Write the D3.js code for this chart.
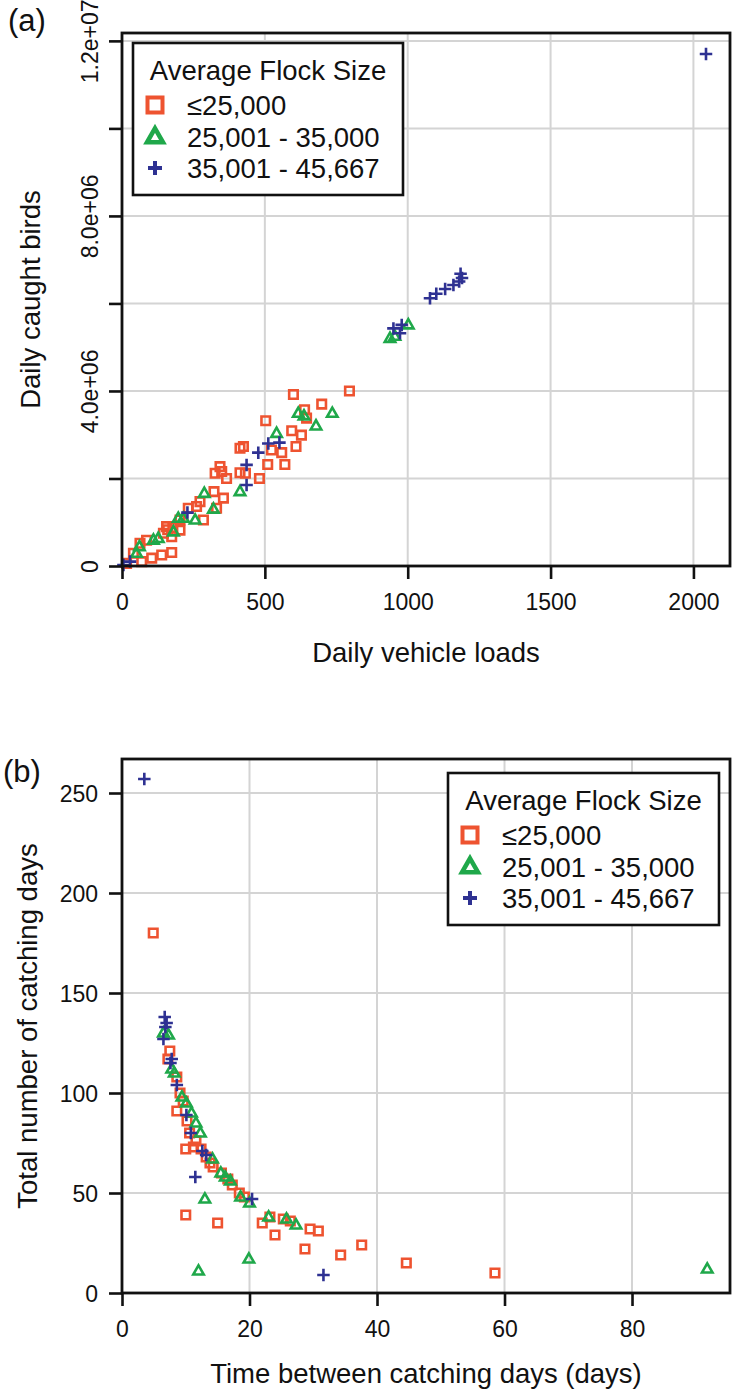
<!DOCTYPE html>
<html><head><meta charset="utf-8">
<script src="https://cdn.jsdelivr.net/npm/d3@7"></script>
<style>
body{margin:0;background:#fff}
svg{display:block}
text{font-family:"Liberation Sans",Arial,Helvetica,sans-serif;fill:#111}
</style>
</head><body>
<svg id="chart" width="732" height="1391"></svg>
<script>
// ---------- DATA ----------
const seriesNames = ["\u226425,000", "25,001 - 35,000", "35,001 - 45,667"];
const legendTitle = "Average Flock Size";

// Panel (a): [daily vehicle loads, daily caught birds]
const loadsBirdsSmall = [
  [600,3920000],[796,4000000],[699,3700000],[639,3570000],[646,3380000],[503,3320000],
  [594,3090000],[628,2990000],[609,2730000],[523,2650000],[559,2590000],[570,2320000],
  [510,2320000],[413,2690000],[425,2730000],[326,2120000],[343,2270000],[349,2160000],
  [366,2000000],[413,2130000],[432,2120000],[481,2000000],[322,1700000],[355,1550000],
  [273,1470000],[261,1360000],[232,1320000],[331,1320000],[285,1050000],[203,1050000],
  [156,900000],[145,750000],[203,820000],[174,670000],[63,520000],[86,590000],
  [174,310000],[139,250000],[104,180000],[69,100000],[16,60000],[40,290000],
  [160,830000],[178,880000]
];
const loadsBirdsMedium = [
  [617,3490000],[637,3430000],[736,3490000],[679,3200000],[541,3030000],[288,1660000],
  [413,1700000],[320,1300000],[197,1090000],[256,1050000],[215,1090000],[180,780000],
  [127,630000],[110,590000],[61,440000],[51,290000],[938,5200000],[955,5250000],[1002,5510000]
];
const loadsBirdsLarge = [
  [551,2820000],[512,2800000],[477,2590000],[436,2310000],[436,1850000],[229,1220000],
  [28,100000],[5,20000],[950,5430000],[979,5510000],[973,5320000],[1078,6120000],
  [1100,6220000],[1131,6330000],[1160,6420000],[1180,6500000],[1190,6580000],[1185,6680000],
  [2044,11700000]
];

// Panel (b): [time between catching days, total number of catching days]
const intervalDaysSmall = [
  [4.9,180],[7.5,121],[7.2,117],[8.6,108],[9.1,100],[8.6,91],[9.6,96],[10.2,86],[10.6,80],
  [10.0,72],[11.2,73],[11.6,76],[12.4,72],[13.2,68],[13.8,65],[14.3,63],[15.6,60],[16.6,57],
  [17.3,54],[18.4,50],[19.2,48],[10.0,39],[15.0,35],[22.0,35],[23.2,38],[24.0,29],[25.3,37],
  [26.4,36],[28.7,22],[29.5,32],[30.8,31],[34.3,19],[37.6,24],[44.6,15],[58.5,10]
];
const intervalDaysMedium = [
  [6.5,130],[7.3,129],[7.8,112],[8.2,110],[9.4,98],[10.1,95],[10.9,90],[11.6,85],[12.3,80],
  [13.0,47],[14.2,67],[15.5,60],[16.2,58],[17.0,56],[18.6,48],[20.0,45],[23.0,38],[25.8,37],
  [27.3,34],[12.0,11],[19.9,17],[91.8,12]
];
const intervalDaysLarge = [
  [3.5,257],[6.7,138],[7.0,135],[6.8,133],[6.5,127],[7.8,117],[7.6,115],[8.6,104],[10.1,89],
  [10.8,80],[11.5,58],[12.6,71],[13.2,69],[20.4,47],[31.6,9]
];

// Tick values / labels
const aXTicks = [0, 500, 1000, 1500, 2000];
const aYTicks = [0, 2e6, 4e6, 6e6, 8e6, 1e7, 1.2e7];
const aYLabels = {0: "0", 4000000: "4.0e+06", 8000000: "8.0e+06", 12000000: "1.2e+07"};
const bXTicks = [0, 20, 40, 60, 80];
const bYTicks = [0, 50, 100, 150, 200, 250];

// ---------- STYLE ----------
const colors = ["#EE5330", "#1FA84A", "#2E3192"];
const kinds = ["square", "triangle", "plus"];
const svg = d3.select("#chart");

function symbolPath(kind, w) {
  const s = w / 2;
  if (kind === "square") return `M${-s},${-s}H${s}V${s}H${-s}Z`;
  if (kind === "triangle") {
    const h = w * 0.88;
    return `M0,${-h * 0.62}L${s},${h * 0.38}L${-s},${h * 0.38}Z`;
  }
  return `M${-s},0H${s}M0,${-s}V${s}`;
}
const markSize = {square: 8.5, triangle: 10.5, plus: 12.5};
const legendSize = {square: 15, triangle: 16, plus: 14};

function drawPanel(cfg) {
  const g = svg.append("g");
  const x = d3.scaleLinear().domain(cfg.xDomain).range([cfg.left, cfg.right]);
  const y = d3.scaleLinear().domain(cfg.yDomain).range([cfg.bottom, cfg.top]);

  // grid
  const grid = g.append("g").attr("stroke", "#d4d4d4").attr("stroke-width", 2);
  grid.selectAll("line.v").data(cfg.xTicks).join("line")
    .attr("x1", d => x(d)).attr("x2", d => x(d)).attr("y1", cfg.top).attr("y2", cfg.bottom);
  grid.selectAll("line.h").data(cfg.yTicks).join("line")
    .attr("y1", d => y(d)).attr("y2", d => y(d)).attr("x1", cfg.left).attr("x2", cfg.right);

  // points
  cfg.series.forEach((data, i) => {
    g.append("g").selectAll("path").data(data).join("path")
      .attr("transform", d => `translate(${x(d[0])},${y(d[1])})`)
      .attr("d", symbolPath(kinds[i], markSize[kinds[i]]))
      .attr("fill", "none").attr("stroke", colors[i]).attr("stroke-width", 2.6)
      .attr("stroke-linejoin", "miter");
  });

  // legend
  const L = cfg.legend;
  const lg = g.append("g").attr("transform", `translate(${L.x},${L.y})`);
  lg.append("rect").attr("width", L.w).attr("height", L.h)
    .attr("fill", "#fff").attr("stroke", "#111").attr("stroke-width", 2.6);
  lg.append("text").attr("x", L.w / 2).attr("y", 37).attr("text-anchor", "middle")
    .attr("font-size", 27.5).text(legendTitle);
  const rowY = [62, 94, 125];
  seriesNames.forEach((name, i) => {
    lg.append("path").attr("transform", `translate(22,${rowY[i]})`)
      .attr("d", symbolPath(kinds[i], legendSize[kinds[i]]))
      .attr("fill", "none").attr("stroke", colors[i]).attr("stroke-width", kinds[i] === "triangle" ? 4.5 : 4);
    lg.append("text").attr("x", 54).attr("y", rowY[i] + 9.6)
      .attr("font-size", 27.5).text(name);
  });

  // axes
  const xa = g.append("g").attr("transform", `translate(0,${cfg.bottom})`)
    .call(d3.axisBottom(x).tickValues(cfg.xTicks).tickSize(13).tickSizeOuter(0)
      .tickFormat(d3.format("d")));
  xa.select(".domain").remove();
  xa.selectAll(".tick line").attr("stroke", "#111").attr("stroke-width", 2.6);
  xa.selectAll(".tick text").attr("y", 44).attr("dy", 0).attr("font-size", 23)
    .attr("font-family", "Liberation Sans, Arial, sans-serif").attr("fill", "#111");

  const ya = g.append("g").attr("transform", `translate(${cfg.left},0)`)
    .call(d3.axisLeft(y).tickValues(cfg.yTicks).tickSize(13).tickSizeOuter(0)
      .tickFormat(cfg.yFormat));
  ya.select(".domain").remove();
  ya.selectAll(".tick line").attr("stroke", "#111").attr("stroke-width", 2.6);
  const yt = ya.selectAll(".tick text").attr("font-size", 23)
    .attr("font-family", "Liberation Sans, Arial, sans-serif").attr("fill", "#111");
  if (cfg.rotateY) {
    yt.attr("x", 0).attr("y", -24).attr("dy", 0).attr("text-anchor", "middle")
      .attr("transform", "rotate(-90)");
  } else {
    yt.attr("x", -24).attr("dy", "0.35em").attr("text-anchor", "end");
  }

  // box
  g.append("rect").attr("x", cfg.left).attr("y", cfg.top)
    .attr("width", cfg.right - cfg.left).attr("height", cfg.bottom - cfg.top)
    .attr("fill", "none").attr("stroke", "#111").attr("stroke-width", 2.8);

  // titles
  g.append("text").attr("x", (cfg.left + cfg.right) / 2).attr("y", cfg.xTitleY)
    .attr("text-anchor", "middle").attr("font-size", 27.5).text(cfg.xTitle);
  g.append("text").attr("transform", `translate(${cfg.yTitleX},${(cfg.top + cfg.bottom) / 2}) rotate(-90)`)
    .attr("text-anchor", "middle").attr("font-size", 27.5).text(cfg.yTitle);
  g.append("text").attr("x", cfg.tagX).attr("y", cfg.tagY).attr("font-size", 31).text(cfg.tag);
}

drawPanel({
  left: 122, right: 730, top: 33, bottom: 566,
  xDomain: [0, 2128], yDomain: [0, 12180000],
  xTicks: aXTicks, yTicks: aYTicks,
  yFormat: d => aYLabels[d] || "",
  rotateY: true,
  series: [loadsBirdsSmall, loadsBirdsMedium, loadsBirdsLarge],
  legend: {x: 133, y: 43, w: 270, h: 152},
  xTitle: "Daily vehicle loads", xTitleY: 662,
  yTitle: "Daily caught birds", yTitleX: 40,
  tag: "(a)", tagX: 8, tagY: 31
});

drawPanel({
  left: 122, right: 730, top: 759, bottom: 1293,
  xDomain: [0, 95.37], yDomain: [0, 267],
  xTicks: bXTicks, yTicks: bYTicks,
  yFormat: d => String(d),
  rotateY: false,
  series: [intervalDaysSmall, intervalDaysMedium, intervalDaysLarge],
  legend: {x: 448, y: 773, w: 271, h: 152},
  xTitle: "Time between catching days (days)", xTitleY: 1383,
  yTitle: "Total number of catching days", yTitleX: 37,
  tag: "(b)", tagX: 3, tagY: 782
});
</script>
</body></html>
